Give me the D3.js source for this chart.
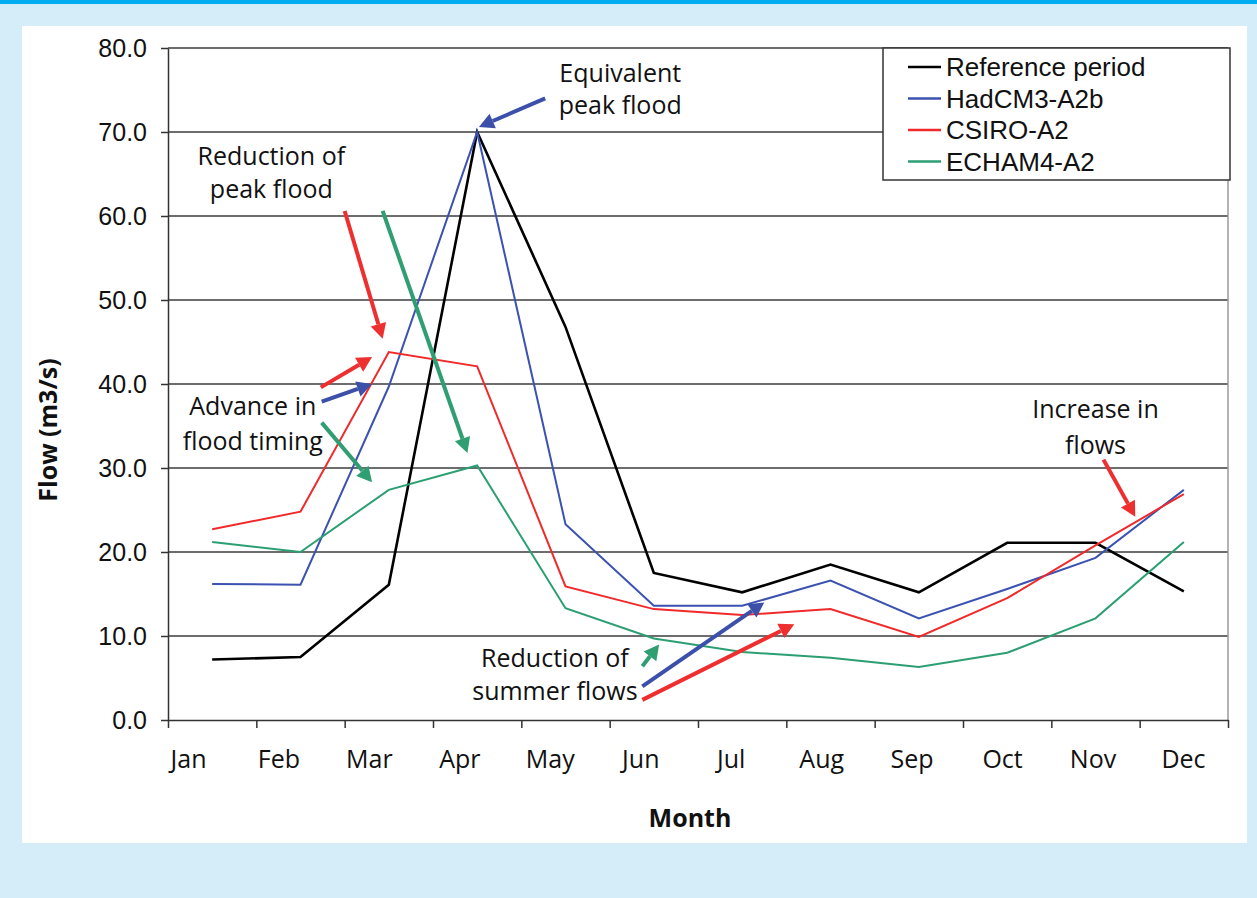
<!DOCTYPE html>
<head>
  <meta charset="utf-8">
  <style>
    body { margin: 0; background: #d4edf9; }
    svg { display: block; }
    svg .grid line { stroke: #3c3c3c; stroke-width: 1.5px; }
    svg .series { fill: none; stroke-width: 2.2px; stroke-linejoin: miter; }
    svg .ytick text { font: 25px "Liberation Sans", Arial, sans-serif; fill: #111; }
    svg .xlab text { font: 25px "Open Sans", sans-serif; fill: #111; }
    svg .note { font: 25px "Open Sans", sans-serif; fill: #111; text-anchor: middle; }
    svg .title { font: bold 25px "Open Sans", sans-serif; fill: #111; text-anchor: middle; }
    svg .legend text { font: 26px "Liberation Sans", Arial, sans-serif; fill: #111; }
  </style>
</head>

<body>
<script src="https://d3js.org/d3.v7.min.js"></script>

<script>
  // data (flow in m3/s)
  var months = ["Jan","Feb","Mar","Apr","May","Jun","Jul","Aug","Sep","Oct","Nov","Dec"];
  var refPeriod = [7.2, 7.5, 16.1, 70.0, 46.8, 17.5, 15.2, 18.5, 15.2, 21.1, 21.1, 15.3];
  var hadcm3    = [16.2, 16.1, 39.7, 70.0, 23.3, 13.6, 13.6, 16.6, 12.1, 15.6, 19.3, 27.4];
  var csiro     = [22.7, 24.8, 43.8, 42.1, 15.9, 13.2, 12.5, 13.2, 9.9, 14.5, 20.8, 26.9];
  var echam4    = [21.2, 20.0, 27.4, 30.3, 13.3, 9.7, 8.1, 7.4, 6.3, 8.0, 12.1, 21.2];
  var yTicks = [0, 10, 20, 30, 40, 50, 60, 70, 80];

  var seriesNames  = ["Reference period", "HadCM3-A2b", "CSIRO-A2", "ECHAM4-A2"];
  var seriesValues = [refPeriod, hadcm3, csiro, echam4];
  var seriesColors = ["#000000", "#3b52b0", "#f02a2a", "#2c9f72"];

  // annotation text and arrows, in (month position, flow) units
  var notes = [
    { lines: ["Equivalent", "peak flood"],   x: 5.12, y: [76.0, 72.1] },
    { lines: ["Reduction of", "peak flood"], x: 1.17, y: [66.1, 62.1] },
    { lines: ["Advance in", "flood timing"], x: 0.96, y: [36.3, 32.1] },
    { lines: ["Reduction of", "summer flows"], x: 4.38, y: [6.3, 2.4] },
    { lines: ["Increase in", "flows"],       x: 10.5, y: [35.9, 31.7] }
  ];
  var arrows = [
    { c: "#3c50aa", x1: 4.27, y1: 74.0, x2: 3.52, y2: 70.6 },
    { c: "#ee2f2f", x1: 2.0,  y1: 60.6, x2: 2.43, y2: 45.4 },
    { c: "#2f9e72", x1: 2.43, y1: 60.6, x2: 3.39, y2: 31.8 },
    { c: "#ee2f2f", x1: 1.73, y1: 39.6, x2: 2.31, y2: 43.2 },
    { c: "#3c50aa", x1: 1.74, y1: 37.9, x2: 2.31, y2: 40.0 },
    { c: "#2f9e72", x1: 1.74, y1: 35.4, x2: 2.31, y2: 28.3 },
    { c: "#2f9e72", x1: 5.37, y1: 6.4,  x2: 5.56, y2: 9.0 },
    { c: "#3c50aa", x1: 5.37, y1: 4.0,  x2: 6.75, y2: 14.0 },
    { c: "#ee2f2f", x1: 5.37, y1: 2.4,  x2: 7.09, y2: 11.4 },
    { c: "#ee2f2f", x1: 10.59, y1: 31.0, x2: 10.95, y2: 24.2 }
  ];

  var W = 1257, H = 898;
  var plot = { left: 168, right: 1228, top: 48, bottom: 720 };

  var svg = d3.select("body").append("svg")
      .attr("width", W)
      .attr("height", H);

  // page background pieces
  svg.append("rect").attr("x", 0).attr("y", 0).attr("width", W).attr("height", 4).style("fill", "#00aeef");
  svg.append("rect").attr("x", 22).attr("y", 26).attr("width", 1225).attr("height", 817).style("fill", "#ffffff");

  // scales
  var xScale = d3.scaleLinear().domain([0, 12]).range([plot.left, plot.right]);
  var xLabel = d3.scalePoint().domain(months).range([188, 1183]);
  var yScale = d3.scaleLinear().domain([0, 80]).range([plot.bottom, plot.top]);

  // horizontal grid lines
  svg.append("g")
      .classed("grid", true)
    .selectAll("line")
    .data(yTicks.slice(1))
    .enter().append("line")
      .attr("x1", plot.left)
      .attr("x2", plot.right)
      .attr("y1", function (d) { return yScale(d); })
      .attr("y2", function (d) { return yScale(d); });

  // right border of plot
  svg.append("line")
      .attr("x1", plot.right).attr("x2", plot.right)
      .attr("y1", plot.top).attr("y2", plot.bottom)
      .style("stroke", "#9a9a9a").style("stroke-width", "1.5px");

  // y axis
  var yAxis = d3.axisLeft(yScale)
      .tickValues(yTicks)
      .tickFormat(d3.format(".1f"))
      .tickSize(7)
      .tickPadding(14)
      .tickSizeOuter(0);

  var ya = svg.append("g")
      .classed("ytick", true)
      .attr("transform", "translate(" + plot.left + ",0)")
      .call(yAxis);
  ya.selectAll("path, line").style("stroke", "#333").style("stroke-width", "1.5px");

  // x axis ticks (category edges)
  var xAxis = d3.axisBottom(xScale)
      .tickValues(d3.range(0, 13))
      .tickFormat("")
      .tickSize(8)
      .tickSizeOuter(0);

  var xa = svg.append("g")
      .attr("transform", "translate(0," + plot.bottom + ")")
      .call(xAxis);
  xa.selectAll("path, line").style("stroke", "#333").style("stroke-width", "1.5px");

  // x axis month labels
  var xl = svg.append("g")
      .classed("xlab", true)
      .attr("transform", "translate(0," + plot.bottom + ")")
      .call(d3.axisBottom(xLabel).tickSize(0).tickPadding(30));
  xl.select(".domain").remove();

  // series lines
  var line = d3.line()
    .x(function (d, i) { return xScale(i + 0.5); })
    .y(function (d) { return yScale(d); });

  svg.selectAll("path.series")
    .data(seriesValues)
    .enter().append("path")
      .classed("series", true)
      .attr("d", function (d) { return line(d); })
      .style("stroke", function (d, i) { return seriesColors[i]; })
      .style("stroke-width", function (d, i) { return i === 0 ? "2.6px" : "2px"; });

  // annotation arrows
  svg.selectAll("g.arrow")
    .data(arrows)
    .enter().append("g")
      .classed("arrow", true)
      .each(function (d) {
        var g = d3.select(this);
        var x1 = xScale(d.x1), y1 = yScale(d.y1), x2 = xScale(d.x2), y2 = yScale(d.y2);
        var a = Math.atan2(y2 - y1, x2 - x1);
        var head = 15, half = 8;
        var bx = x2 - head * Math.cos(a), by = y2 - head * Math.sin(a);
        g.append("line")
          .attr("x1", x1).attr("y1", y1).attr("x2", bx).attr("y2", by)
          .style("stroke", d.c).style("stroke-width", "4px");
        g.append("path")
          .attr("d", "M" + x2 + "," + y2 +
                     "L" + (bx + half * Math.sin(a)) + "," + (by - half * Math.cos(a)) +
                     "L" + (bx - half * Math.sin(a)) + "," + (by + half * Math.cos(a)) + "Z")
          .style("fill", d.c);
      });

  // annotation text
  notes.forEach(function (n) {
    n.lines.forEach(function (t, k) {
      svg.append("text")
        .classed("note", true)
        .attr("x", xScale(n.x))
        .attr("y", yScale(n.y[k]))
        .text(t);
    });
  });

  // legend
  var lg = svg.append("g").classed("legend", true);
  lg.append("rect")
    .attr("x", 883).attr("y", 48).attr("width", 347).attr("height", 132)
    .style("fill", "#fff").style("stroke", "#333").style("stroke-width", "1.5px");
  seriesNames.forEach(function (name, i) {
    var cy = 67 + i * 31.5;
    lg.append("line")
      .attr("x1", 908).attr("x2", 941).attr("y1", cy).attr("y2", cy)
      .style("stroke", seriesColors[i]).style("stroke-width", "2.5px");
    lg.append("text")
      .attr("x", 946).attr("y", cy + 9)
      .text(name);
  });

  // axis titles
  svg.append("text")
    .classed("title", true)
    .attr("transform", "translate(57,430) rotate(-90)")
    .text("Flow (m3/s)");

  svg.append("text")
    .classed("title", true)
    .attr("x", 690)
    .attr("y", 827)
    .text("Month");
</script>
</body>
</html>
